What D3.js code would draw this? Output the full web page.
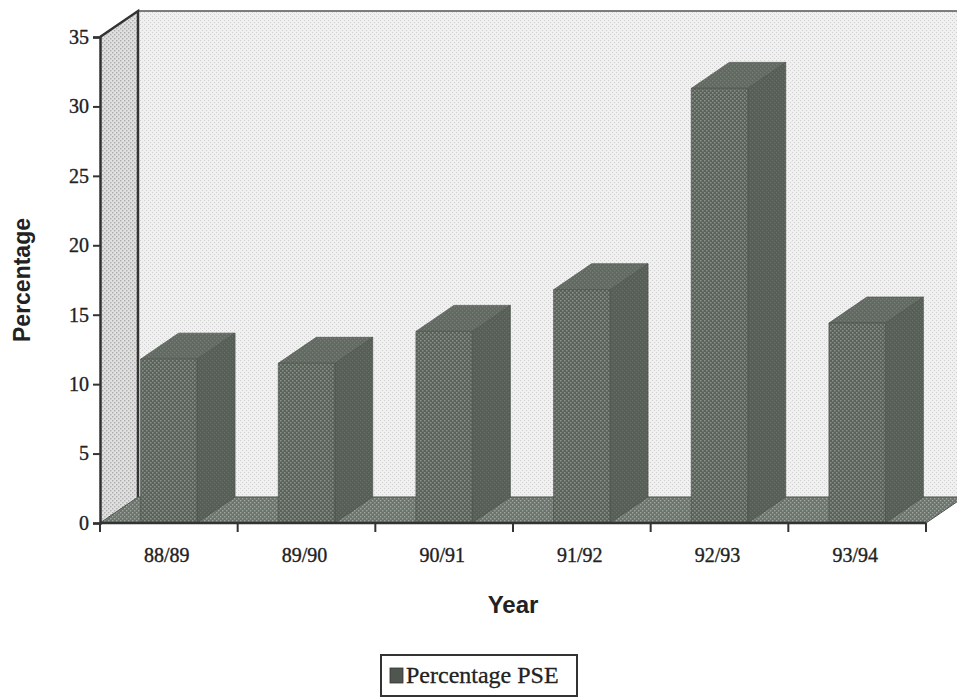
<!DOCTYPE html>
<html>
<head>
<meta charset="utf-8">
<script src="https://cdn.jsdelivr.net/npm/d3@7"></script>
<style>
  html, body { margin: 0; padding: 0; background: #fff; }
  svg { display: block; }
</style>
</head>
<body>
<script>
// Percentage PSE by academic year
const years = ["88/89", "89/90", "90/91", "91/92", "92/93", "93/94"];
const pseValues = [11.8, 11.5, 13.8, 16.8, 31.3, 14.4];
const yTicks = [0, 5, 10, 15, 20, 25, 30, 35];
const seriesName = "Percentage PSE";

const W = 957, H = 698;
const depthX = 38, depthY = -26;   // oblique depth of the 3-D box
const plotLeft = 100, plotRight = 926, plotBottom = 523, plotTop = 37;
const serif = "'Liberation Serif', 'Times New Roman', serif";
const sans = "'Liberation Sans', Arial, sans-serif";
const ink = "#222";

const svg = d3.select("body").append("svg")
  .attr("width", W).attr("height", H);

// Stippled fills
const defs = svg.append("defs");
function stipple(id, bg, dot, size, r) {
  const p = defs.append("pattern").attr("id", id)
    .attr("patternUnits", "userSpaceOnUse")
    .attr("width", size).attr("height", size);
  p.append("rect").attr("width", size).attr("height", size).attr("fill", bg);
  p.append("rect").attr("x", 0).attr("y", 0).attr("width", r).attr("height", r).attr("fill", dot);
  p.append("rect").attr("x", size / 2).attr("y", size / 2).attr("width", r).attr("height", r).attr("fill", dot);
  return `url(#${id})`;
}
const backFill = stipple("back", "#f0f0f0", "#d0d0d0", 4, 1);
const leftFill = stipple("left", "#e0e0e0", "#adadad", 4, 1.4);
const floorFill = stipple("floor", "#6c736c", "#9ea49e", 4, 1.4);
const frontFill = stipple("front", "#5a625a", "#8a918a", 4, 1.5);
const sideFill = stipple("side", "#565e57", "#687068", 4, 1.2);
const topFill = stipple("top", "#616962", "#788078", 4, 1.2);

const x = d3.scaleBand().domain(years)
  .range([plotLeft, plotRight])
  .paddingInner(0.59).paddingOuter(0.295);
const xCat = d3.scaleBand().domain(years).range([plotLeft, plotRight]);
const y = d3.scaleLinear().domain([0, 35]).range([plotBottom, plotTop]);

const poly = pts => "M" + pts.map(p => p.join(",")).join("L") + "Z";

// Back wall
svg.append("path")
  .attr("d", poly([[plotLeft + depthX, y(35) + depthY], [W + 20, y(35) + depthY],
                   [W + 20, y(0) + depthY], [plotLeft + depthX, y(0) + depthY]]))
  .attr("fill", backFill);
svg.append("line")
  .attr("x1", plotLeft + depthX).attr("x2", W)
  .attr("y1", y(35) + depthY).attr("y2", y(35) + depthY)
  .attr("stroke", "#555").attr("stroke-width", 1.5);

// Left wall
svg.append("path")
  .attr("d", poly([[plotLeft, y(35)], [plotLeft + depthX, y(35) + depthY],
                   [plotLeft + depthX, y(0) + depthY], [plotLeft, y(0)]]))
  .attr("fill", leftFill);
svg.append("path")
  .attr("d", poly([[plotLeft, y(35)], [plotLeft + depthX, y(35) + depthY],
                   [plotLeft + depthX, y(0) + depthY]]).replace("Z", ""))
  .attr("fill", "none").attr("stroke", "#333").attr("stroke-width", 2.5);

// Floor
svg.append("path")
  .attr("d", poly([[plotLeft, y(0)], [plotRight, y(0)],
                   [plotRight + depthX, y(0) + depthY], [plotLeft + depthX, y(0) + depthY]]))
  .attr("fill", floorFill)
  .attr("stroke", "#4d534d").attr("stroke-width", 1);

// Columns
const bars = svg.append("g").selectAll("g").data(years).join("g");
bars.each(function (d, i) {
  const g = d3.select(this);
  const x0 = x(d), x1 = x(d) + x.bandwidth();
  const yv = y(pseValues[i]), y0 = y(0);
  g.append("path")
    .attr("d", poly([[x1, y0], [x1, yv], [x1 + depthX, yv + depthY], [x1 + depthX, y0 + depthY]]))
    .attr("fill", sideFill).attr("stroke", "#4c534c").attr("stroke-width", 0.7);
  g.append("path")
    .attr("d", poly([[x0, yv], [x1, yv], [x1 + depthX, yv + depthY], [x0 + depthX, yv + depthY]]))
    .attr("fill", topFill).attr("stroke", "#4c534c").attr("stroke-width", 0.7);
  g.append("path")
    .attr("d", poly([[x0, y0], [x0, yv], [x1, yv], [x1, y0]]))
    .attr("fill", frontFill).attr("stroke", "#4c534c").attr("stroke-width", 0.7);
});

// Y axis
const yAxis = svg.append("g").attr("transform", `translate(${plotLeft},0)`)
  .call(d3.axisLeft(y).tickValues(yTicks).tickSize(7).tickPadding(4).tickFormat(d3.format("d")));
yAxis.select(".domain").attr("stroke", "#333").attr("stroke-width", 2.5);
yAxis.selectAll(".tick line").attr("stroke", "#333").attr("stroke-width", 2);
yAxis.selectAll("text")
  .attr("font-family", serif).attr("font-size", 20)
  .attr("fill", ink).attr("stroke", ink).attr("stroke-width", 0.35);

// X axis: ticks at category boundaries, labels at centres
const xg = svg.append("g");
xg.append("line")
  .attr("x1", plotLeft).attr("x2", plotRight)
  .attr("y1", y(0)).attr("y2", y(0))
  .attr("stroke", "#333").attr("stroke-width", 2.5);
const bounds = years.map(d => xCat(d)).concat([plotRight]);
xg.selectAll("line.tick").data(bounds).join("line")
  .attr("class", "tick")
  .attr("x1", d => d).attr("x2", d => d)
  .attr("y1", y(0)).attr("y2", y(0) + 9)
  .attr("stroke", "#333").attr("stroke-width", 2);
xg.selectAll("text").data(years).join("text")
  .attr("x", d => xCat(d) + xCat.bandwidth() / 2 - 2)
  .attr("y", 562)
  .attr("text-anchor", "middle")
  .attr("font-family", serif).attr("font-size", 20)
  .attr("fill", ink).attr("stroke", ink).attr("stroke-width", 0.35)
  .text(d => d);

// Axis titles
svg.append("text")
  .attr("x", 513).attr("y", 613)
  .attr("text-anchor", "middle")
  .attr("font-family", sans)
  .attr("font-weight", "bold").attr("font-size", 24).attr("fill", ink)
  .text("Year");
svg.append("text")
  .attr("transform", "translate(30,280) rotate(-90)")
  .attr("text-anchor", "middle")
  .attr("font-family", sans)
  .attr("font-weight", "bold").attr("font-size", 23).attr("fill", ink)
  .text("Percentage");

// Legend
const lg = svg.append("g");
lg.append("rect")
  .attr("x", 381).attr("y", 655).attr("width", 196).attr("height", 41)
  .attr("fill", "#fff").attr("stroke", "#333").attr("stroke-width", 2);
lg.append("rect")
  .attr("x", 390).attr("y", 668).attr("width", 13).attr("height", 15)
  .attr("fill", "#4f564f").attr("stroke", "#333").attr("stroke-width", 0.8);
lg.append("text")
  .attr("x", 406).attr("y", 683)
  .attr("font-family", serif).attr("font-size", 24)
  .attr("fill", ink).attr("stroke", ink).attr("stroke-width", 0.3)
  .text(seriesName);
</script>
</body>
</html>
